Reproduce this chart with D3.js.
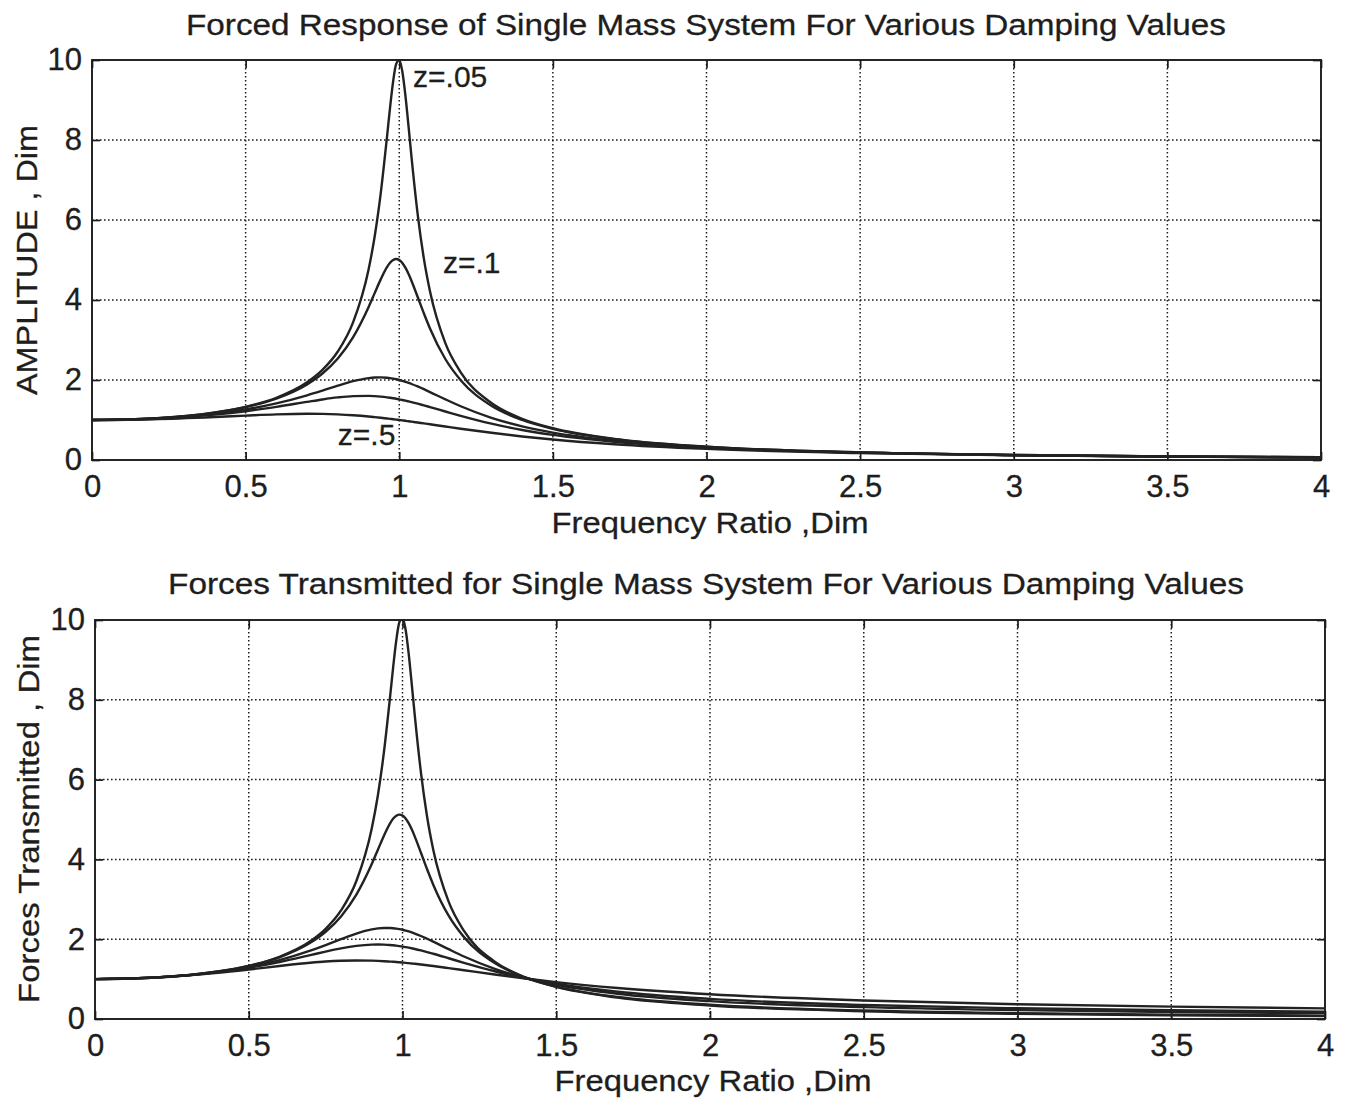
<!DOCTYPE html>
<html>
<head>
<meta charset="utf-8">
<script src="https://cdn.jsdelivr.net/npm/d3@7"></script>
<style>
  html, body { margin: 0; padding: 0; background: #fff; }
  svg { display: block; }
  text { font-family: "Liberation Sans", Arial, sans-serif; fill: #1e1e1e; }
</style>
</head>
<body>
<svg id="chart" width="1346" height="1101"></svg>
<script>
// ---- Data ----
const frequencyRatio = [0, 0.2, 0.4, 0.5, 0.6, 0.7, 0.75, 0.8, 0.85, 0.9,
  0.92, 0.94, 0.96, 0.97, 0.98, 0.99, 1.0,
  1.01, 1.02, 1.03, 1.04, 1.06, 1.08, 1.1,
  1.15, 1.2, 1.3, 1.4, 1.5, 1.7, 2.0,
  2.5, 3.0, 3.5, 4.0];

const amplitude05 = [1, 1.041, 1.189, 1.330, 1.556, 1.943, 2.253, 2.712, 3.446, 4.757,
  5.586, 6.684, 8.068, 8.804, 9.461, 9.903, 10.0,
  9.711, 9.115, 8.357, 7.565, 6.141, 5.041, 4.218,
  2.921, 2.193, 1.424, 1.031, 0.794, 0.527, 0.333,
  0.190, 0.125, 0.089, 0.067];
const amplitude10 = [1, 1.041, 1.185, 1.322, 1.536, 1.891, 2.162, 2.538, 3.073, 3.821,
  4.172, 4.522, 4.822, 4.931, 5.001, 5.025, 5.0,
  4.926, 4.809, 4.655, 4.476, 4.075, 3.668, 3.288,
  2.525, 1.995, 1.356, 1.0, 0.778, 0.521, 0.330,
  0.190, 0.125, 0.089, 0.067];
const amplitude25 = [1, 1.036, 1.158, 1.265, 1.415, 1.617, 1.735, 1.858, 1.970, 2.047,
  2.062, 2.065, 2.056, 2.047, 2.034, 2.019, 2.0,
  1.979, 1.955, 1.928, 1.900, 1.838, 1.770, 1.699,
  1.517, 1.344, 1.055, 0.842, 0.686, 0.483, 0.316,
  0.185, 0.123, 0.088, 0.066];
const amplitude33 = [1, 1.032, 1.136, 1.220, 1.329, 1.453, 1.514, 1.565, 1.598, 1.604,
  1.597, 1.584, 1.566, 1.555, 1.543, 1.530, 1.515,
  1.500, 1.483, 1.465, 1.447, 1.408, 1.366, 1.323,
  1.213, 1.104, 0.908, 0.751, 0.627, 0.455, 0.305,
  0.182, 0.121, 0.087, 0.066];
const amplitude50 = [1, 1.020, 1.075, 1.109, 1.140, 1.155, 1.152, 1.140, 1.118, 1.087,
  1.072, 1.056, 1.038, 1.029, 1.020, 1.010, 1.0,
  0.990, 0.980, 0.969, 0.959, 0.937, 0.915, 0.893,
  0.837, 0.782, 0.680, 0.589, 0.512, 0.393, 0.277,
  0.172, 0.117, 0.085, 0.064];

const transmitted05 = [1, 1.042, 1.190, 1.332, 1.559, 1.947, 2.259, 2.720, 3.458, 4.776,
  5.609, 6.713, 8.105, 8.845, 9.506, 9.951, 10.05,
  9.760, 9.162, 8.401, 7.606, 6.176, 5.070, 4.243,
  2.940, 2.208, 1.436, 1.041, 0.803, 0.535, 0.339,
  0.196, 0.130, 0.094, 0.072];
const transmitted10 = [1, 1.042, 1.189, 1.328, 1.547, 1.909, 2.186, 2.571, 3.117, 3.882,
  4.242, 4.602, 4.910, 5.023, 5.096, 5.123, 5.099,
  5.026, 4.908, 4.753, 4.571, 4.166, 3.752, 3.367,
  2.590, 2.052, 1.401, 1.039, 0.812, 0.550, 0.356,
  0.212, 0.145, 0.108, 0.085];
const transmitted25 = [1, 1.041, 1.181, 1.304, 1.477, 1.713, 1.853, 2.001, 2.141, 2.245,
  2.270, 2.282, 2.281, 2.275, 2.265, 2.252, 2.236,
  2.217, 2.194, 2.169, 2.141, 2.080, 2.011, 1.939,
  1.750, 1.567, 1.258, 1.027, 0.858, 0.633, 0.447,
  0.297, 0.222, 0.177, 0.148];
const transmitted33 = [1, 1.041, 1.175, 1.285, 1.429, 1.601, 1.689, 1.770, 1.832, 1.865,
  1.868, 1.864, 1.854, 1.847, 1.838, 1.827, 1.815,
  1.802, 1.788, 1.772, 1.755, 1.718, 1.678, 1.635,
  1.522, 1.408, 1.197, 1.022, 0.883, 0.684, 0.505,
  0.351, 0.269, 0.219, 0.185];
const transmitted50 = [1, 1.040, 1.158, 1.240, 1.329, 1.409, 1.440, 1.460, 1.468, 1.463,
  1.457, 1.449, 1.439, 1.434, 1.428, 1.421, 1.414,
  1.407, 1.399, 1.391, 1.383, 1.366, 1.347, 1.328,
  1.276, 1.222, 1.114, 1.014, 0.923, 0.776, 0.620,
  0.463, 0.370, 0.309, 0.266];

const xTicks = [0, 0.5, 1, 1.5, 2, 2.5, 3, 3.5, 4];
const xTickLabels = ["0", "0.5", "1", "1.5", "2", "2.5", "3", "3.5", "4"];
const yTicks = [0, 2, 4, 6, 8, 10];
const yTickLabels = ["0", "2", "4", "6", "8", "10"];

const topAnnotations = [
  { text: "z=.05", x: 1.045, y: 9.33 },
  { text: "z=.1",  x: 1.142, y: 4.68 },
  { text: "z=.5",  x: 0.80, y: 0.37 }
];

// ---- Drawing ----
const svg = d3.select("#chart");
const ink = "#1c1c1c";
const fontFamily = '"Liberation Sans", Arial, sans-serif';

function drawPanel(cfg) {
  const x = d3.scaleLinear().domain([0, 4]).range([cfg.left, cfg.right]);
  const y = d3.scaleLinear().domain([0, 10]).range([cfg.bottom, cfg.top]);
  const g = svg.append("g");

  const clipId = "clip" + cfg.id;
  svg.append("defs").append("clipPath").attr("id", clipId)
    .append("rect").attr("x", cfg.left).attr("y", cfg.top - 1)
    .attr("width", cfg.right - cfg.left).attr("height", cfg.bottom - cfg.top + 1);

  // grid
  g.selectAll(".gx").data(xTicks.slice(1, -1)).enter().append("line")
    .attr("x1", d => x(d)).attr("x2", d => x(d))
    .attr("y1", cfg.top).attr("y2", cfg.bottom)
    .attr("stroke", ink).attr("stroke-width", 1.5).attr("stroke-dasharray", "1.6,2.4");
  g.selectAll(".gy").data(yTicks.slice(1, -1)).enter().append("line")
    .attr("y1", d => y(d)).attr("y2", d => y(d))
    .attr("x1", cfg.left).attr("x2", cfg.right)
    .attr("stroke", ink).attr("stroke-width", 1.5).attr("stroke-dasharray", "1.6,2.4");

  // axes with inward ticks
  const tl = 8;
  const bottomAxis = d3.axisBottom(x).tickValues(xTicks).tickSize(-tl)
    .tickFormat((d, i) => xTickLabels[i]).tickPadding(15);
  const gb = g.append("g").attr("transform", `translate(0,${cfg.bottom})`).call(bottomAxis);
  const topAxis = d3.axisTop(x).tickValues(xTicks).tickSize(-tl).tickFormat("");
  const gt = g.append("g").attr("transform", `translate(0,${cfg.top})`).call(topAxis);
  const leftAxis = d3.axisLeft(y).tickValues(yTicks).tickSize(-tl)
    .tickFormat((d, i) => yTickLabels[i]).tickPadding(10);
  const gl = g.append("g").attr("transform", `translate(${cfg.left},0)`).call(leftAxis);
  const rightAxis = d3.axisRight(y).tickValues(yTicks).tickSize(-tl).tickFormat("");
  const gr = g.append("g").attr("transform", `translate(${cfg.right},0)`).call(rightAxis);
  [gb, gt, gl, gr].forEach(a => {
    a.select(".domain").remove();
    a.selectAll(".tick line").attr("stroke", ink).attr("stroke-width", 1.7);
    a.selectAll(".tick text").style("font-size", "31px").style("font-family", fontFamily)
      .attr("fill", ink).attr("stroke", ink).attr("stroke-width", 0.3);
  });
  gb.selectAll(".tick text").attr("dy", "0.71em");

  // frame
  g.append("rect").attr("x", cfg.left).attr("y", cfg.top)
    .attr("width", cfg.right - cfg.left).attr("height", cfg.bottom - cfg.top)
    .attr("fill", "none").attr("stroke", ink).attr("stroke-width", 1.9);

  // curves
  const line = d3.line().x((d, i) => x(frequencyRatio[i])).y(d => y(d)).curve(d3.curveMonotoneX);
  g.append("g").attr("clip-path", `url(#${clipId})`)
    .selectAll("path").data(cfg.series).enter().append("path")
    .attr("d", d => line(d))
    .attr("fill", "none").attr("stroke", "#222").attr("stroke-width", 2.4)
    .attr("stroke-linejoin", "round");

  // title & labels
  const textStyle = sel => sel.style("font-size", "30px").attr("fill", ink)
    .attr("stroke", ink).attr("stroke-width", 0.3).attr("lengthAdjust", "spacingAndGlyphs");
  svg.append("text").attr("x", cfg.titleX).attr("y", cfg.titleY)
    .attr("text-anchor", "middle").attr("textLength", cfg.titleLen)
    .call(textStyle).text(cfg.title);
  svg.append("text").attr("x", cfg.xLabelX).attr("y", cfg.xLabelY)
    .attr("text-anchor", "middle").attr("textLength", 317)
    .call(textStyle).text("Frequency Ratio ,Dim");
  svg.append("text")
    .attr("transform", `translate(${cfg.yLabelX},${cfg.yLabelY}) rotate(-90)`)
    .attr("text-anchor", "middle").attr("textLength", cfg.yLabelLen)
    .call(textStyle).text(cfg.yLabel);

  (cfg.annotations || []).forEach(a => {
    svg.append("text").attr("x", x(a.x)).attr("y", y(a.y))
      .style("font-size", "30px").attr("fill", ink)
      .attr("stroke", ink).attr("stroke-width", 0.3).text(a.text);
  });
}

drawPanel({
  id: "top", left: 92, right: 1321, top: 60, bottom: 460,
  series: [amplitude05, amplitude10, amplitude25, amplitude33, amplitude50],
  title: "Forced Response of Single Mass System For Various Damping Values",
  titleX: 706, titleY: 35, titleLen: 1040,
  xLabelX: 710, xLabelY: 533,
  yLabel: "AMPLITUDE , Dim", yLabelX: 37, yLabelY: 260, yLabelLen: 270,
  annotations: topAnnotations
});

drawPanel({
  id: "bot", left: 95, right: 1325, top: 620, bottom: 1019,
  series: [transmitted05, transmitted10, transmitted25, transmitted33, transmitted50],
  title: "Forces Transmitted for Single Mass System For Various Damping Values",
  titleX: 706, titleY: 594, titleLen: 1076,
  xLabelX: 713, xLabelY: 1091,
  yLabel: "Forces Transmitted , Dim", yLabelX: 39, yLabelY: 819, yLabelLen: 368
});
</script>
</body>
</html>
